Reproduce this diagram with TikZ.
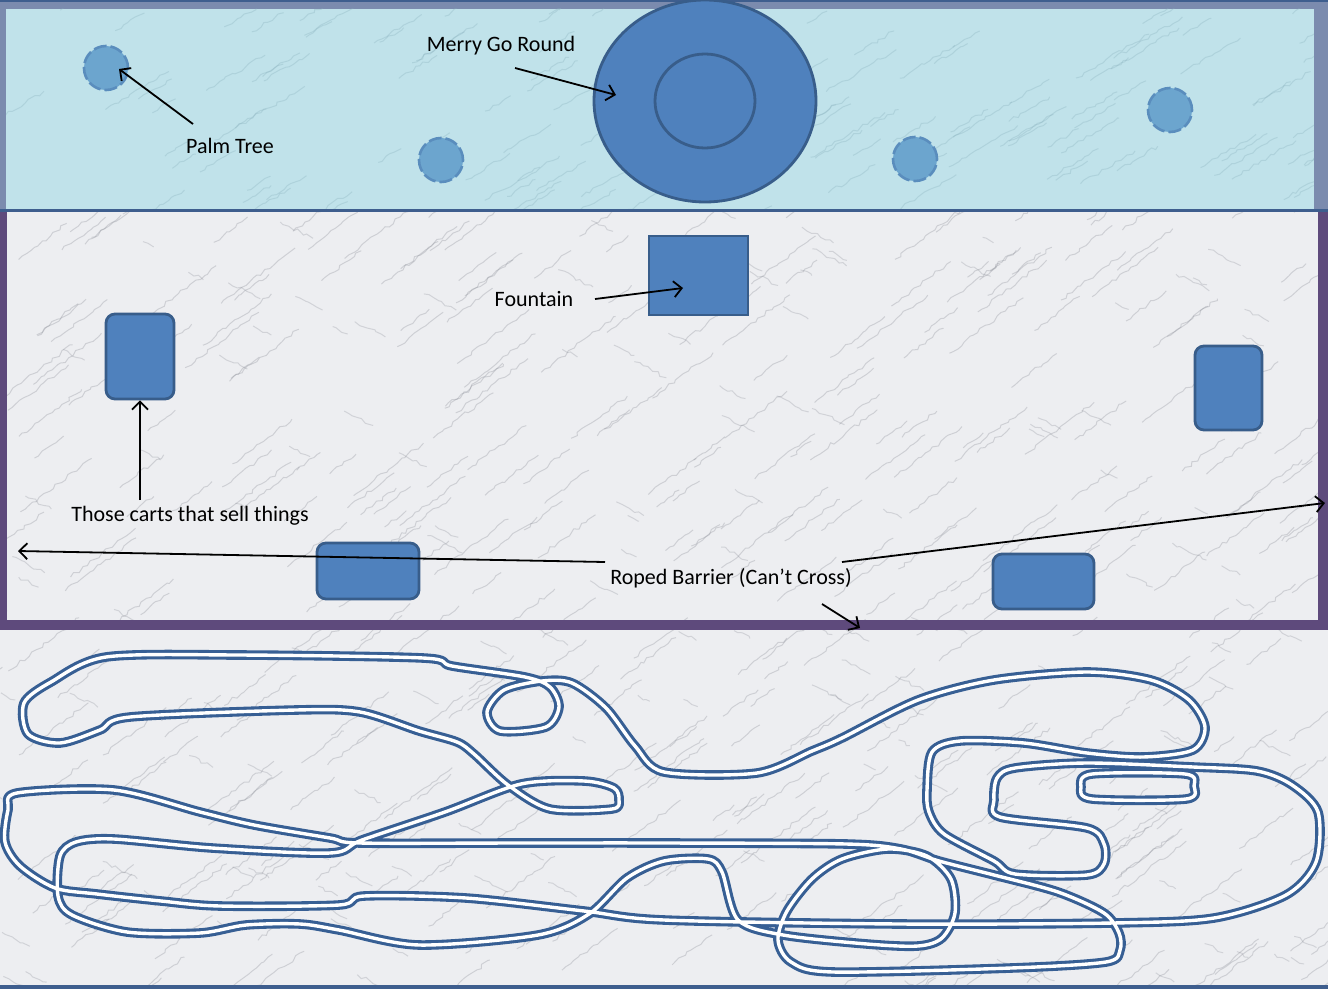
\documentclass[tikz,border=0pt]{standalone}
\usepackage{fontspec}
\setmainfont{Carlito}
\usetikzlibrary{arrows.meta,shapes.geometric,decorations.pathmorphing}
\definecolor{skyband}{HTML}{C0E2EA}
\definecolor{skyvein}{HTML}{86AEBB}
\definecolor{marble}{HTML}{EDEEF1}
\definecolor{veingray}{HTML}{7E828C}
\definecolor{framegray}{HTML}{7B8BAE}
\definecolor{darkline}{HTML}{3E5E8E}
\definecolor{ropepurple}{HTML}{5E4A7C}
\definecolor{shapefill}{HTML}{4F81BD}
\definecolor{shapeline}{HTML}{385D8A}
\definecolor{treefill}{HTML}{6CA5CE}
\definecolor{treeline}{HTML}{5A8DBD}
\definecolor{trackblue}{HTML}{375F94}
\tikzset{
  tree/.style={circle, minimum size=44pt, inner sep=0pt, fill=treefill, draw=treeline,
    line width=2.6pt, dash pattern=on 13pt off 4pt},
  ride/.style={ellipse, inner sep=0pt, fill=shapefill, draw=shapeline, line width=2.8pt},
  fountainbox/.style={rectangle, inner sep=0pt, fill=shapefill, draw=shapeline, line width=2.8pt},
  cart/.style={rectangle, rounded corners=9pt, inner sep=0pt, fill=shapefill, draw=shapeline, line width=2.8pt},
  lab/.style={inner sep=0pt, font=\fontsize{22}{26}\selectfont, text=black},
  callout/.style={draw=black, line width=1.8pt, -{Straight Barb[length=8pt,width=16pt,line width=1.8pt]}},
  track/.style={draw=trackblue, line width=3.1pt, double=white, double distance=3.4pt, line join=round},
  vein/.style={line width=1pt, decorate, decoration={random steps,segment length=5pt,amplitude=1.8pt}}
}
\begin{document}
\begin{tikzpicture}[x=1pt,y=-1pt]
\useasboundingbox (0,0) rectangle (1328,998);
% base
\fill[white] (0,0) rectangle (1328,998);
\fill[marble] (0,212) rectangle (1328,986);
% marble veins
\begin{scope}
  \clip (0,212) rectangle (1328,985);
  \pgfmathsetseed{42}
  \foreach \i in {1,...,420}{
    \pgfmathsetmacro{\xa}{rnd*1400-40}
    \pgfmathsetmacro{\ya}{200+rnd*820}
    \pgfmathsetmacro{\vlen}{20+rnd*55}
    \draw[vein, veingray, opacity=0.28] (\xa,\ya) -- ++(\vlen,-0.75*\vlen);
  }
  \foreach \i in {1,...,160}{
    \pgfmathsetmacro{\xa}{rnd*1400-40}
    \pgfmathsetmacro{\ya}{200+rnd*820}
    \pgfmathsetmacro{\vlen}{10+rnd*25}
    \draw[vein, veingray, opacity=0.25] (\xa,\ya) -- ++(\vlen,0.5*\vlen);
  }
\end{scope}
% top band
\fill[framegray] (0,0) rectangle (1328,212);
\fill[skyband] (6,9) rectangle (1314,209);
\begin{scope}
  \clip (6,9) rectangle (1314,209);
  \pgfmathsetseed{7}
  \foreach \i in {1,...,150}{
    \pgfmathsetmacro{\xa}{rnd*1400-40}
    \pgfmathsetmacro{\ya}{rnd*260}
    \pgfmathsetmacro{\vlen}{20+rnd*55}
    \draw[vein, skyvein, opacity=0.30] (\xa,\ya) -- ++(\vlen,-0.6*\vlen);
  }
\end{scope}
\fill[darkline] (0,0) rectangle (1328,2.5);
\fill[darkline] (0,208.5) rectangle (1328,212);
% roped barrier (purple)
\fill[ropepurple] (0,212) rectangle (7,630);
\fill[ropepurple] (1318,212) rectangle (1328,630);
\fill[ropepurple] (0,620) rectangle (1328,630);
% bottom line
\fill[darkline] (0,985) rectangle (1328,988.5);

% palm trees
\node[tree] (tree1) at (106,68) {};
\node[tree] (tree2) at (441,160) {};
\node[tree] (tree3) at (915,159) {};
\node[tree] (tree4) at (1170,110) {};
% merry go round
\node[ride, minimum width=222pt, minimum height=202pt] (mgr) at (705,101) {};
\node[ride, minimum width=100pt, minimum height=94pt] (hub) at (705,101) {};
% fountain
\node[fountainbox, minimum width=99pt, minimum height=79pt] (fountain) at (698.5,275.5) {};
% carts
\node[cart, minimum width=68pt, minimum height=85pt] (cart1) at (140,356.5) {};
\node[cart, minimum width=67pt, minimum height=84pt] (cart2) at (1228.5,388) {};
\node[cart, minimum width=102pt, minimum height=56pt] (cart3) at (368,571) {};
\node[cart, minimum width=101pt, minimum height=55pt] (cart4) at (1043.5,581.5) {};

% track
\draw[track] plot[smooth cycle, tension=0.5] coordinates {
 (17,793) (114,790) (200,812) (254,825) (330,838) (360,843) (520,843) (664,843) (846,844)
 (901,849) (939,861) (994,875) (1058,892) (1104,913) (1119,933) (1120,950) (1106,962)
 (1011,968) (833,972) (791,962) (778,940) (787,911) (812,879) (842,859) (888,849)
 (927,856) (951,879) (955,913) (942,938) (918,946) (867,944) (783,935) (738,920)
 (722,872) (708,859) (664,861) (627,878) (589,914) (538,935) (419,945) (339,930)
 (300,924) (246,925) (200,933) (127,932) (72,915) (58,896) (60,856) (76,842)
 (114,839) (212,848) (330,853) (362,840) (445,812) (521,784) (584,781) (614,788)
 (619,800) (612,809) (550,809) (508,785) (474,754) (457,742) (419,731) (360,712)
 (296,710) (130,717) (100,730) (60,743) (28,734) (24,703) (51,682) (106,657)
 (237,655) (423,658) (452,666) (525,677) (550,687) (559,707) (546,727) (500,731)
 (487,712) (504,690) (542,681) (572,683) (606,708) (635,746) (664,772) (757,773)
 (812,751) (842,738) (918,700) (994,680) (1087,672) (1151,680) (1189,700) (1205,727)
 (1193,750) (1143,757) (1087,753) (1024,743) (960,741) (932,752) (927,790) (929,812)
 (944,834) (994,861) (1015,874) (1087,875) (1104,864) (1104,844) (1087,828) (1000,817)
 (994,800) (997,778) (1015,768) (1087,763) (1193,767) (1257,771) (1292,785) (1318,812)
 (1316,862) (1286,895) (1214,918) (1113,923) (900,924) (664,920) (584,911) (466,898)
 (364,896) (339,905) (220,906) (161,901) (97,894) (55,888) (20,866) (5,842) (8,810)
};
\draw[track] plot[smooth cycle, tension=0.5] coordinates {
 (1092,774) (1185,774) (1194,786) (1186,799) (1092,799) (1081,787)
};

% labels
\node[lab] (mgrlab) at (501,46) {Merry Go Round};
\node[lab] (treelab) at (230,146) {Palm Tree};
\node[lab] (fountlab) at (534,299) {Fountain};
\node[lab] (cartlab) at (190,516) {Those carts that sell things};
\node[lab] (ropelab) at (731,578) {Roped Barrier (Can’t Cross)};

% connector ends
\coordinate (treefrom) at (193,124);
\coordinate (treeto) at (119,69);
\coordinate (mgrfrom) at (515,68);
\coordinate (mgrto) at (616,95);
\coordinate (fountfrom) at (595,299);
\coordinate (fountto) at (683,288);
\coordinate (cartfrom) at (140,500);
\coordinate (ropefromL) at (605,562);
\coordinate (ropetoL) at (18,551);
\coordinate (ropefromR) at (842,562);
\coordinate (ropetoR) at (1325,503);
\coordinate (ropefromB) at (822,604);
\coordinate (ropetoB) at (860,628);

\draw[callout] (treefrom) -- (treeto);
\draw[callout] (mgrfrom) -- (mgrto);
\draw[callout] (fountfrom) -- (fountto);
\draw[callout] (cartfrom) -- (cart1.south);
\draw[callout] (ropefromL) -- (ropetoL);
\draw[callout] (ropefromR) -- (ropetoR);
\draw[callout] (ropefromB) -- (ropetoB);
\end{tikzpicture}
\end{document}
